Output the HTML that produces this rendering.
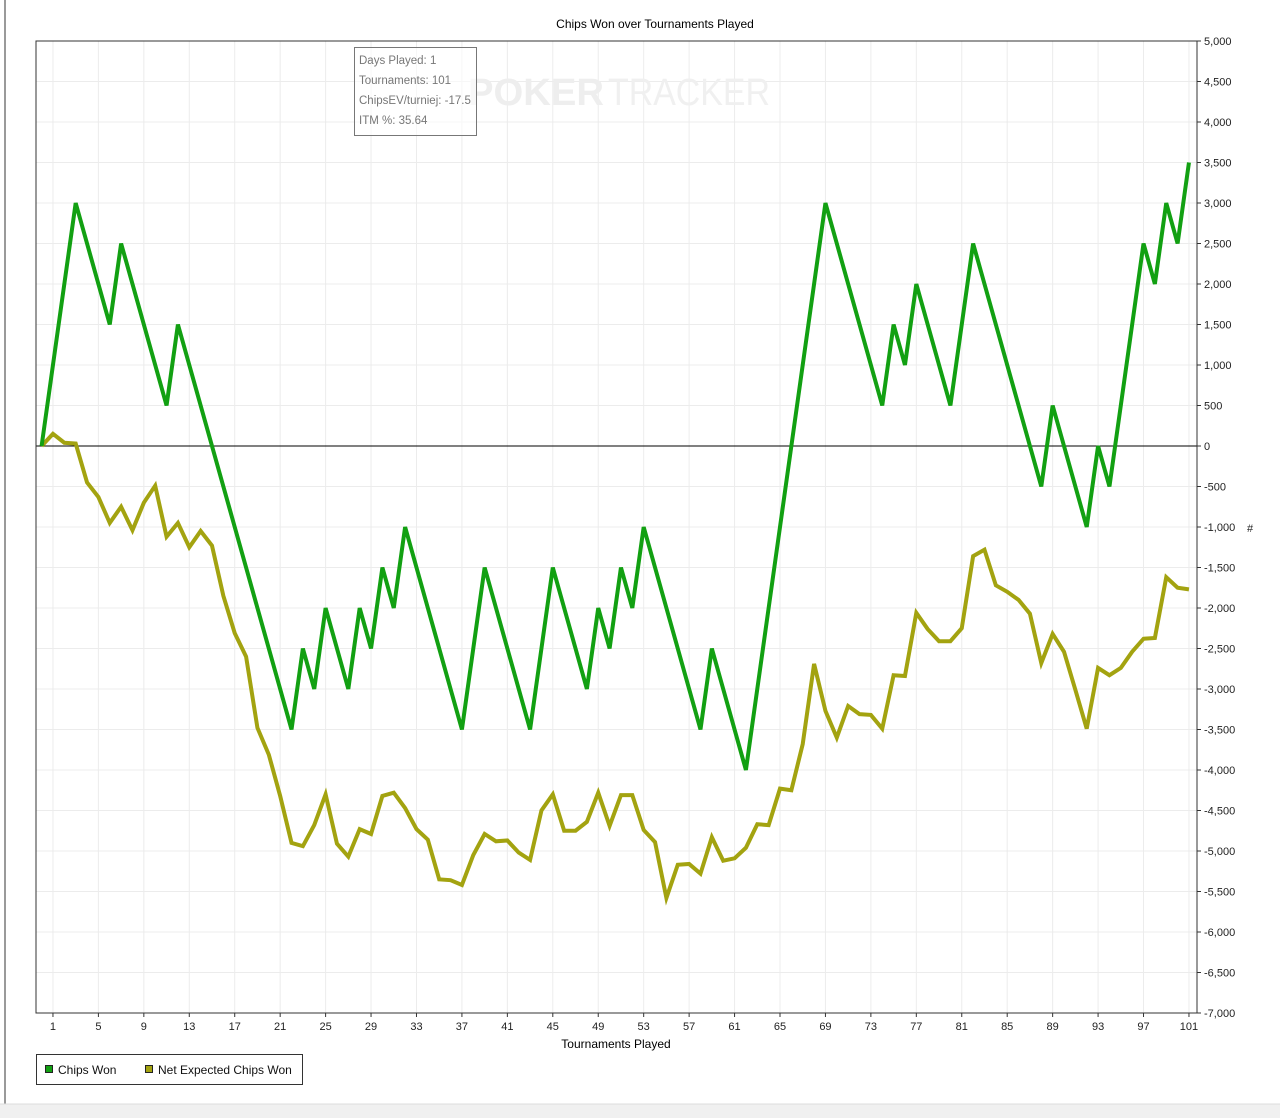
<!DOCTYPE html>
<html><head><meta charset="utf-8">
<style>
body{margin:0;background:#fff;font-family:"Liberation Sans",sans-serif;}
#wrap{position:relative;width:1280px;height:1118px;overflow:hidden;background:#fff;}
</style></head>
<body>
<div id="wrap">
<svg id="chart" width="1280" height="1118" xmlns="http://www.w3.org/2000/svg"></svg>
</div>
<script>
const won = [0,1000,2000,3000,2500,2000,1500,2500,2000,1500,1000,500,1500,1000,500,0,-500,-1000,-1500,-2000,-2500,-3000,-3500,-2500,-3000,-2000,-2500,-3000,-2000,-2500,-1500,-2000,-1000,-1500,-2000,-2500,-3000,-3500,-2500,-1500,-2000,-2500,-3000,-3500,-2500,-1500,-2000,-2500,-3000,-2000,-2500,-1500,-2000,-1000,-1500,-2000,-2500,-3000,-3500,-2500,-3000,-3500,-4000,-3000,-2000,-1000,0,1000,2000,3000,2500,2000,1500,1000,500,1500,1000,2000,1500,1000,500,1500,2500,2000,1500,1000,500,0,-500,500,0,-500,-1000,0,-500,500,1500,2500,2000,3000,2500,3500];
const expected = [0,150,40,30,-450,-630,-950,-750,-1040,-700,-490,-1120,-950,-1250,-1050,-1230,-1850,-2310,-2600,-3480,-3810,-4320,-4900,-4940,-4680,-4300,-4910,-5070,-4730,-4790,-4320,-4280,-4470,-4730,-4860,-5350,-5360,-5420,-5050,-4790,-4880,-4870,-5020,-5110,-4500,-4300,-4750,-4750,-4640,-4280,-4690,-4310,-4310,-4740,-4890,-5580,-5170,-5160,-5280,-4830,-5120,-5090,-4960,-4670,-4680,-4230,-4250,-3680,-2690,-3270,-3600,-3210,-3310,-3320,-3490,-2830,-2840,-2060,-2260,-2410,-2410,-2250,-1360,-1280,-1720,-1800,-1900,-2070,-2680,-2320,-2540,-3010,-3490,-2740,-2830,-2740,-2540,-2380,-2370,-1620,-1750,-1770];
const xTicks = [1,5,9,13,17,21,25,29,33,37,41,45,49,53,57,61,65,69,73,77,81,85,89,93,97,101];
const yTicks = [5000,4500,4000,3500,3000,2500,2000,1500,1000,500,0,-500,-1000,-1500,-2000,-2500,-3000,-3500,-4000,-4500,-5000,-5500,-6000,-6500,-7000];

const NS="http://www.w3.org/2000/svg";
const svg=document.getElementById('chart');
const L=36,R=1197,T=41,B=1013;
const X=t=>41.6+t*11.36;
const Y=v=>T+(5000-v)*(B-T)/12000;
function mk(tag,attrs,parent){const e=document.createElementNS(NS,tag);for(const k in attrs)e.setAttribute(k,attrs[k]);(parent||svg).appendChild(e);return e;}
function fmt(v){return v.toLocaleString('en-US');}

let e;
e=mk('line',{x1:5,y1:0,x2:5,y2:1105,stroke:'#9a9a9a','stroke-width':2});


e=mk('rect',{x:0,y:1104,width:1280,height:14,fill:'#f0f0f0'});


mk('line',{x1:0,y1:1104,x2:1280,y2:1104,stroke:'#dcdcdc'});

e=mk('text',{x:655,y:28,'font-size':12,'text-anchor':'middle',fill:'#000'});e.textContent='Chips Won over Tournaments Played';



const g=mk('g',{});


yTicks.forEach(v=>mk('line',{x1:L,x2:R,y1:Y(v),y2:Y(v),stroke:'#ececec'},g));
xTicks.forEach(t=>mk('line',{x1:X(t),x2:X(t),y1:T,y2:B,stroke:'#ececec'},g));

e=mk('text',{x:468,y:105,'font-size':38,'font-weight':'bold',fill:'#eeeeee',textLength:136,lengthAdjust:'spacingAndGlyphs'});e.textContent='POKER';


e=mk('text',{x:608,y:105,'font-size':38,fill:'#f0f0f0',textLength:162,lengthAdjust:'spacingAndGlyphs'});e.textContent='TRACKER';



e=mk('line',{x1:L,x2:R,y1:Y(0),y2:Y(0),stroke:'#000','stroke-width':1});



e=mk('rect',{x:L,y:T,width:R-L,height:B-T,fill:'none',stroke:'#333'});



function series(arr,color,name){
  const p=mk('polyline',{points:arr.map((v,i)=>X(i)+','+Y(v)).join(' '),fill:'none',stroke:color,'stroke-width':4,'stroke-linejoin':'miter'});
  
  
}
series(expected,'#a3a310','series-net-expected-chips-won');
series(won,'#12a012','series-chips-won');

const ya=mk('g',{});


yTicks.forEach(v=>{
  mk('line',{x1:R,x2:R+4,y1:Y(v),y2:Y(v),stroke:'#333'},ya);
  const t=mk('text',{x:R+7,y:Y(v)+4,'font-size':11,fill:'#222'},ya);t.textContent=fmt(v);
});
e=mk('text',{x:1247,y:532,'font-size':11,fill:'#222'});e.textContent='#';



const xa=mk('g',{});


xTicks.forEach(tk=>{
  mk('line',{x1:X(tk),x2:X(tk),y1:B,y2:B+4,stroke:'#333'},xa);
  const t=mk('text',{x:X(tk),y:B+17,'font-size':11,'text-anchor':'middle',fill:'#222'},xa);t.textContent=tk;
});
e=mk('text',{x:616,y:1048,'font-size':12,'text-anchor':'middle',fill:'#000'});e.textContent='Tournaments Played';



const lg=mk('g',{});


mk('rect',{x:36.5,y:1054.5,width:266,height:30,fill:'#fff',stroke:'#333'},lg);
e=mk('rect',{x:45.5,y:1065.5,width:7,height:7,fill:'#12a012',stroke:'#222'},lg);


e=mk('text',{x:58,y:1074,'font-size':12,fill:'#111'},lg);e.textContent='Chips Won';


e=mk('rect',{x:145.5,y:1065.5,width:7,height:7,fill:'#a3a310',stroke:'#222'},lg);


e=mk('text',{x:158,y:1074,'font-size':12,fill:'#111'},lg);e.textContent='Net Expected Chips Won';



const ib=mk('g',{});


mk('rect',{x:354.5,y:47.5,width:122,height:88,fill:'#fff','fill-opacity':0.6,stroke:'#777'},ib);
['Days Played: 1','Tournaments: 101','ChipsEV/turniej: -17.5','ITM %: 35.64'].forEach((s,i)=>{
  const t=mk('text',{x:359,y:64+i*20,'font-size':11.5,fill:'#777'},ib);t.textContent=s;
});
</script>
</body></html>
